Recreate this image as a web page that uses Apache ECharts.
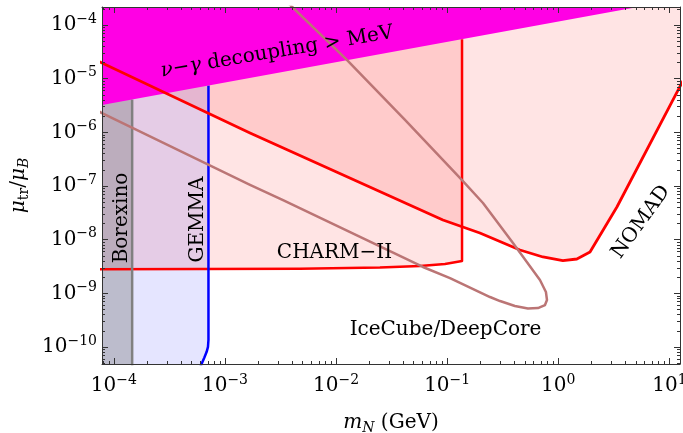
<!DOCTYPE html>
<html><head><meta charset="utf-8">
<script src="https://cdn.jsdelivr.net/npm/echarts@6/dist/echarts.min.js"></script>
<style>html,body{margin:0;padding:0;background:#fff}#c{width:683px;height:433px}</style>
</head><body><div id="c"></div>
<script>
// ---- tick exponents (decades) ----
const xMajorExp = [-4, -3, -2, -1, 0, 1];
const yMajorExp = [-10, -9, -8, -7, -6, -5, -4];

// ---- NOMAD (red curve, excluded above) ----
const nomadMass = [6.09e-5, 1.68e-3, 9.16e-2, 0.197, 0.452, 0.728, 1.10, 1.47, 1.93, 3.37, 12.4, 15.3];
const nomadMu   = [2.50e-5, 9.72e-7, 2.33e-8, 1.33e-8, 6.43e-9, 4.76e-9, 4.09e-9, 4.37e-9, 5.89e-9, 4.06e-8, 7.00e-6, 1.58e-5];

// ---- CHARM-II (red, excluded above, left of cut) ----
const charmMass = [6.09e-5, 4.73e-3, 2.48e-2, 5.69e-2, 9.55e-2, 0.136, 0.136];
const charmMu   = [2.82e-9, 2.88e-9, 3.03e-9, 3.24e-9, 3.53e-9, 4.01e-9, 5.43e-5];

// ---- GEMMA (blue, excluded to the left) ----
const gemmaMass = [5.83e-4, 6.17e-4, 6.51e-4, 6.84e-4, 7.03e-4, 7.10e-4, 7.10e-4];
const gemmaMu   = [3.76e-11, 4.86e-11, 6.30e-11, 8.15e-11, 1.01e-10, 1.36e-10, 7.46e-6];

// ---- Borexino (gray, excluded to the left) ----
const borexMass = [1.46e-4, 1.46e-4];
const borexMu   = [1e-11, 4.09e-6];

// ---- nu-gamma decoupling > MeV boundary (magenta, excluded above) ----
const decoMass = [5e-5, 20];
const decoMu   = [2.73e-6, 3.60e-4];

// ---- IceCube/DeepCore contour ----
const iceMass = [3.47e-3, 1.25e-2, 4.17e-2, 0.136, 0.210, 0.391, 0.684, 0.774, 0.791, 0.759, 0.656, 0.533, 0.407, 0.299, 0.243, 0.106, 6.05e-2, 3.33e-3, 1.68e-3, 7.82e-5, 6.09e-5];
const iceMu   = [2.92e-4, 2.23e-5, 1.70e-6, 1.29e-7, 4.82e-8, 8.67e-9, 1.77e-9, 1.06e-9, 7.52e-10, 6.06e-10, 5.33e-10, 5.22e-10, 5.81e-10, 7.19e-10, 8.55e-10, 1.93e-9, 3.10e-9, 5.48e-8, 1.05e-7, 2.29e-6, 2.96e-6];

// ---- geometry helpers ----
const lg = Math.log10;
const X_MIN = -4.107, X_MAX = 1.0955, Y_MIN = -10.316, Y_MAX = -3.665;
const FAR_LO_M = 1e-5, FAR_HI_M = 100, FAR_LO_MU = 1e-12, FAR_HI_MU = 1e-2;
const FONT = 'DejaVu Serif';
const AX = '#333';

const pts = (ms, mus) => ms.map((m, i) => [lg(m), lg(mus[i])]);
const P = (m, mu) => [lg(m), lg(mu)];

function minorVals(lo, hi) {
  const out = [];
  for (let e = Math.floor(lo) - 1; e <= Math.ceil(hi); e++)
    for (let k = 2; k <= 9; k++) { const v = e + lg(k); if (v > lo && v < hi) out.push(v); }
  return out;
}

function polySeries(poly, fill, z) {
  return {
    type: 'custom', coordinateSystem: 'cartesian2d', xAxisIndex: 0, yAxisIndex: 0,
    clip: true, z: z, silent: true, animation: false,
    data: poly,
    renderItem: (params, api) => {
      if (params.dataIndex !== 0) return null;
      return { type: 'polygon', shape: { points: poly.map(p => api.coord(p)) }, style: { fill: fill } };
    }
  };
}
function lineSeries(data, color, width, z) {
  return { type: 'line', xAxisIndex: 0, yAxisIndex: 0, data: data, symbol: 'none', showSymbol: false,
    lineStyle: { color: color, width: width, cap: 'butt', join: 'round' }, z: z, silent: true, animation: false, clip: true };
}

// polygons
const nomadPts = pts(nomadMass, nomadMu);
const charmPts = pts(charmMass, charmMu);
const gemmaPts = pts(gemmaMass, gemmaMu);
const borexPts = pts(borexMass, borexMu);
const decoPts = pts(decoMass, decoMu);
const icePts = pts(iceMass, iceMu);

const borexPoly = [P(FAR_LO_M, FAR_LO_MU), P(borexMass[0], FAR_LO_MU), P(borexMass[0], FAR_HI_MU), P(FAR_LO_M, FAR_HI_MU)];
const gemmaPoly = [P(FAR_LO_M, FAR_LO_MU), P(gemmaMass[0], FAR_LO_MU)].concat(gemmaPts, [P(gemmaMass[gemmaMass.length-1], FAR_HI_MU), P(FAR_LO_M, FAR_HI_MU)]);
const charmPoly = [P(FAR_LO_M, charmMu[0])].concat(charmPts, [P(charmMass[charmMass.length-1], FAR_HI_MU), P(FAR_LO_M, FAR_HI_MU)]);
const nomadPoly = nomadPts.concat([P(nomadMass[nomadMass.length-1], FAR_HI_MU), P(FAR_LO_M, FAR_HI_MU), P(FAR_LO_M, nomadMu[0])]);
const decoPoly = decoPts.concat([P(FAR_HI_M, FAR_HI_MU), P(FAR_LO_M, FAR_HI_MU)]);

// axes
const supFmt = v => { const n = Math.round(v); return '{b|10}{s|' + (n < 0 ? '\u2212' : '') + Math.abs(n) + '}'; };
const labelRich = {
  b: { fontFamily: FONT, fontSize: 20, color: '#000' },
  s: { fontFamily: FONT, fontSize: 14, color: '#000', padding: [0, 0, 12, 0] }
};
function axis(dim, pos, opts) {
  const a = {
    type: 'value', position: pos,
    min: dim === 'x' ? X_MIN : Y_MIN, max: dim === 'x' ? X_MAX : Y_MAX,
    splitLine: { show: false }, splitArea: { show: false },
    axisLine: { show: !!opts.line, onZero: false, lineStyle: { color: AX, width: 1 } },
    axisTick: { show: true, inside: true, length: opts.len, customValues: opts.ticks, lineStyle: { color: AX, width: 1 } },
    axisLabel: { show: false },
    z: 20, silent: true, offset: 0
  };
  if (opts.labels) {
    a.axisLabel = { show: true, customValues: opts.ticks, formatter: supFmt, rich: labelRich,
      fontFamily: FONT, fontSize: 20, color: '#000', margin: opts.margin };
  }
  if (opts.name) Object.assign(a, opts.name);
  return a;
}
const xMinor = minorVals(X_MIN, X_MAX), yMinor = minorVals(Y_MIN, Y_MAX);

const option = {
  animation: false,
  backgroundColor: '#fff',
  grid: { left: 102, right: 3, top: 7, bottom: 69, containLabel: false, outerBoundsMode: 'none' },
  xAxis: [
    axis('x', 'bottom', { line: true, len: 6, ticks: xMajorExp, labels: true, margin: 9,
      name: { name: '{i|m}{sub|N} (GeV)', nameLocation: 'middle', nameGap: 47,
        nameTextStyle: { fontFamily: FONT, fontSize: 20, color: '#000',
          rich: { i: { fontFamily: FONT, fontSize: 20, fontStyle: 'italic', color: '#000' },
                  sub: { fontFamily: FONT, fontSize: 14, fontStyle: 'italic', color: '#000', padding: [10, 0, 0, 0] } } } } }),
    axis('x', 'bottom', { len: 3, ticks: xMinor }),
    axis('x', 'top', { line: true, len: 6, ticks: xMajorExp }),
    axis('x', 'top', { len: 3, ticks: xMinor })
  ],
  yAxis: [
    axis('y', 'left', { line: true, len: 6, ticks: yMajorExp, labels: true, margin: 5,
      name: { name: '{i|\u03bc}{sub|tr}/{i|\u03bc}{subi|B}', nameLocation: 'middle', nameGap: 63, nameRotate: 90,
        nameTextStyle: { fontFamily: FONT, fontSize: 20, color: '#000',
          rich: { i: { fontFamily: FONT, fontSize: 20, fontStyle: 'italic', color: '#000' },
                  sub: { fontFamily: FONT, fontSize: 14, color: '#000', padding: [10, 0, 0, 0] },
                  subi: { fontFamily: FONT, fontSize: 14, fontStyle: 'italic', color: '#000', padding: [10, 0, 0, 0] } } } } }),
    axis('y', 'left', { len: 3, ticks: yMinor }),
    axis('y', 'right', { line: true, len: 6, ticks: yMajorExp }),
    axis('y', 'right', { len: 3, ticks: yMinor })
  ],
  series: [
    polySeries(nomadPoly, 'rgba(255,0,0,0.105)', 1),
    polySeries(charmPoly, 'rgba(255,0,0,0.105)', 1.1),
    polySeries(gemmaPoly, 'rgba(0,0,255,0.1)', 1.2),
    polySeries(borexPoly, 'rgba(128,128,128,0.4)', 1.3),
    lineSeries(charmPts, '#ff0000', 2.5, 3),
    lineSeries(gemmaPts, '#0000ff', 2.5, 3.1),
    lineSeries(borexPts, '#808080', 2.5, 3.2),
    polySeries(decoPoly, '#ff00e4', 4),
    lineSeries(nomadPts, '#ff0000', 2.8, 6),
    lineSeries(icePts, '#bb7575', 2.5, 6.1)
  ],
  graphic: { elements: [
    { type: 'text', x: 277, y: 52, rotation: 9.5 * Math.PI / 180, z: 100, silent: true,
      style: { text: '{i|\u03bd}\u2212{i|\u03b3} decoupling > MeV', fill: '#000', fontFamily: FONT, fontSize: 20, align: 'center', verticalAlign: 'middle',
        rich: { i: { fontFamily: FONT, fontSize: 20, fontStyle: 'italic', fill: '#000' } } } },
    { type: 'text', x: 121.5, y: 218, rotation: Math.PI / 2, z: 100, silent: true,
      style: { text: 'Borexino', fill: '#000', fontFamily: FONT, fontSize: 20, align: 'center', verticalAlign: 'middle' } },
    { type: 'text', x: 197.5, y: 219.5, rotation: Math.PI / 2, z: 100, silent: true,
      style: { text: 'GEMMA', fill: '#000', fontFamily: FONT, fontSize: 20, align: 'center', verticalAlign: 'middle' } },
    { type: 'text', x: 334.5, y: 253, z: 100, silent: true,
      style: { text: 'CHARM\u2212II', fill: '#000', fontFamily: FONT, fontSize: 20, align: 'center', verticalAlign: 'middle' } },
    { type: 'text', x: 445.5, y: 330, z: 100, silent: true,
      style: { text: 'IceCube/DeepCore', fill: '#000', fontFamily: FONT, fontSize: 20, align: 'center', verticalAlign: 'middle' } },
    { type: 'text', x: 641, y: 222, rotation: 54 * Math.PI / 180, z: 100, silent: true,
      style: { text: 'NOMAD', fill: '#000', fontFamily: FONT, fontSize: 20, align: 'center', verticalAlign: 'middle' } }
  ] }
};

const chart = echarts.init(document.getElementById('c'), null, { renderer: 'canvas' });
chart.setOption(option);
</script>
</body></html>
